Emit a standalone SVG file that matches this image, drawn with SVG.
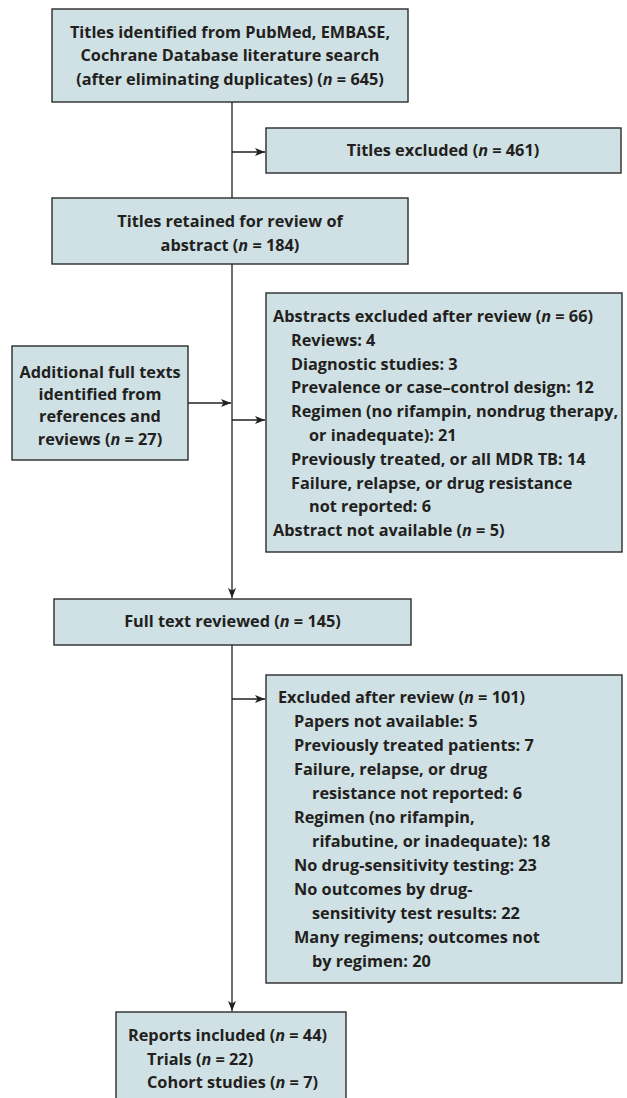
<svg xmlns="http://www.w3.org/2000/svg" width="627" height="1098" viewBox="0 0 627 1098">
<style>
.box{fill:#cfe1e4;stroke:#2b2b2b;stroke-width:1.4}
.t{font-family:"Open Sans","Noto Sans",sans-serif;font-weight:700;font-size:16.3px;fill:#231f20}
.c{text-anchor:middle}
.i{font-style:italic}
.ln{fill:none;stroke:#231f20;stroke-width:1.3}
</style>
<defs>
<marker id="ah" markerUnits="userSpaceOnUse" markerWidth="11" markerHeight="9" refX="10" refY="4.5" orient="auto">
<path d="M0,0.5 L10,4.5 L0,8.5 L2.5,4.5 z" fill="#231f20"/>
</marker>
</defs>
<g id="connectors">
<path class="ln" d="M232,102 V198"/>
<path class="ln" d="M232,264 V598" marker-end="url(#ah)"/>
<path class="ln" d="M232,645 V1011" marker-end="url(#ah)"/>
<path class="ln" d="M232,152 H265" marker-end="url(#ah)"/>
<path class="ln" d="M232,420 H265" marker-end="url(#ah)"/>
<path class="ln" d="M232,699 H265" marker-end="url(#ah)"/>
<path class="ln" d="M188,403 H231" marker-end="url(#ah)"/>
</g>
<g id="n-identified">
<rect class="box" x="52" y="9" width="356" height="93"/>
<text class="t c" x="230" y="37.5">Titles identified from PubMed, EMBASE,</text>
<text class="t c" x="230" y="61">Cochrane Database literature search</text>
<text class="t c" x="230" y="84.5">(after eliminating duplicates) (<tspan class="i">n</tspan> = 645)</text>
</g>
<g id="n-titles-excluded">
<rect class="box" x="266" y="128" width="355" height="45"/>
<text class="t c" x="443" y="156">Titles excluded (<tspan class="i">n</tspan> = 461)</text>
</g>
<g id="n-retained">
<rect class="box" x="52" y="198" width="356" height="66"/>
<text class="t c" x="230" y="226.5">Titles retained for review of</text>
<text class="t c" x="230" y="250.5">abstract (<tspan class="i">n</tspan> = 184)</text>
</g>
<g id="n-additional">
<rect class="box" x="12" y="346" width="176" height="114"/>
<text class="t c" x="100" y="377.5">Additional full texts</text>
<text class="t c" x="100" y="399.5">identified from</text>
<text class="t c" x="100" y="422">references and</text>
<text class="t c" x="100" y="444.5">reviews (<tspan class="i">n</tspan> = 27)</text>
</g>
<g id="n-abstracts-excluded">
<rect class="box" x="266" y="293" width="356" height="259"/>
<text class="t" x="273" y="322">Abstracts excluded after review (<tspan class="i">n</tspan> = 66)</text>
<text class="t" x="291" y="345.8">Reviews: 4</text>
<text class="t" x="291" y="369.6">Diagnostic studies: 3</text>
<text class="t" x="291" y="393.4">Prevalence or case–control design: 12</text>
<text class="t" x="291" y="417.2">Regimen (no rifampin, nondrug therapy,</text>
<text class="t" x="309" y="441">or inadequate): 21</text>
<text class="t" x="291" y="464.8">Previously treated, or all MDR TB: 14</text>
<text class="t" x="291" y="488.6">Failure, relapse, or drug resistance</text>
<text class="t" x="309" y="512.4">not reported: 6</text>
<text class="t" x="273" y="536.2">Abstract not available (<tspan class="i">n</tspan> = 5)</text>
</g>
<g id="n-fulltext">
<rect class="box" x="54" y="599" width="357" height="46"/>
<text class="t c" x="232.5" y="626.5">Full text reviewed (<tspan class="i">n</tspan> = 145)</text>
</g>
<g id="n-excluded-after">
<rect class="box" x="266" y="675" width="356" height="308"/>
<text class="t" x="278" y="702.5">Excluded after review (<tspan class="i">n</tspan> = 101)</text>
<text class="t" x="294" y="726.5">Papers not available: 5</text>
<text class="t" x="294" y="750.5">Previously treated patients: 7</text>
<text class="t" x="294" y="774.5">Failure, relapse, or drug</text>
<text class="t" x="312" y="798.5">resistance not reported: 6</text>
<text class="t" x="294" y="822.5">Regimen (no rifampin,</text>
<text class="t" x="312" y="846.5">rifabutine, or inadequate): 18</text>
<text class="t" x="294" y="870.5">No drug-sensitivity testing: 23</text>
<text class="t" x="294" y="894.5">No outcomes by drug-</text>
<text class="t" x="312" y="918.5">sensitivity test results: 22</text>
<text class="t" x="294" y="942.5">Many regimens; outcomes not</text>
<text class="t" x="312" y="966.5">by regimen: 20</text>
</g>
<g id="n-reports">
<rect class="box" x="116" y="1012" width="230" height="100"/>
<text class="t" x="128" y="1041">Reports included (<tspan class="i">n</tspan> = 44)</text>
<text class="t" x="147" y="1064.5">Trials (<tspan class="i">n</tspan> = 22)</text>
<text class="t" x="147" y="1088">Cohort studies (<tspan class="i">n</tspan> = 7)</text>
</g>
</svg>
